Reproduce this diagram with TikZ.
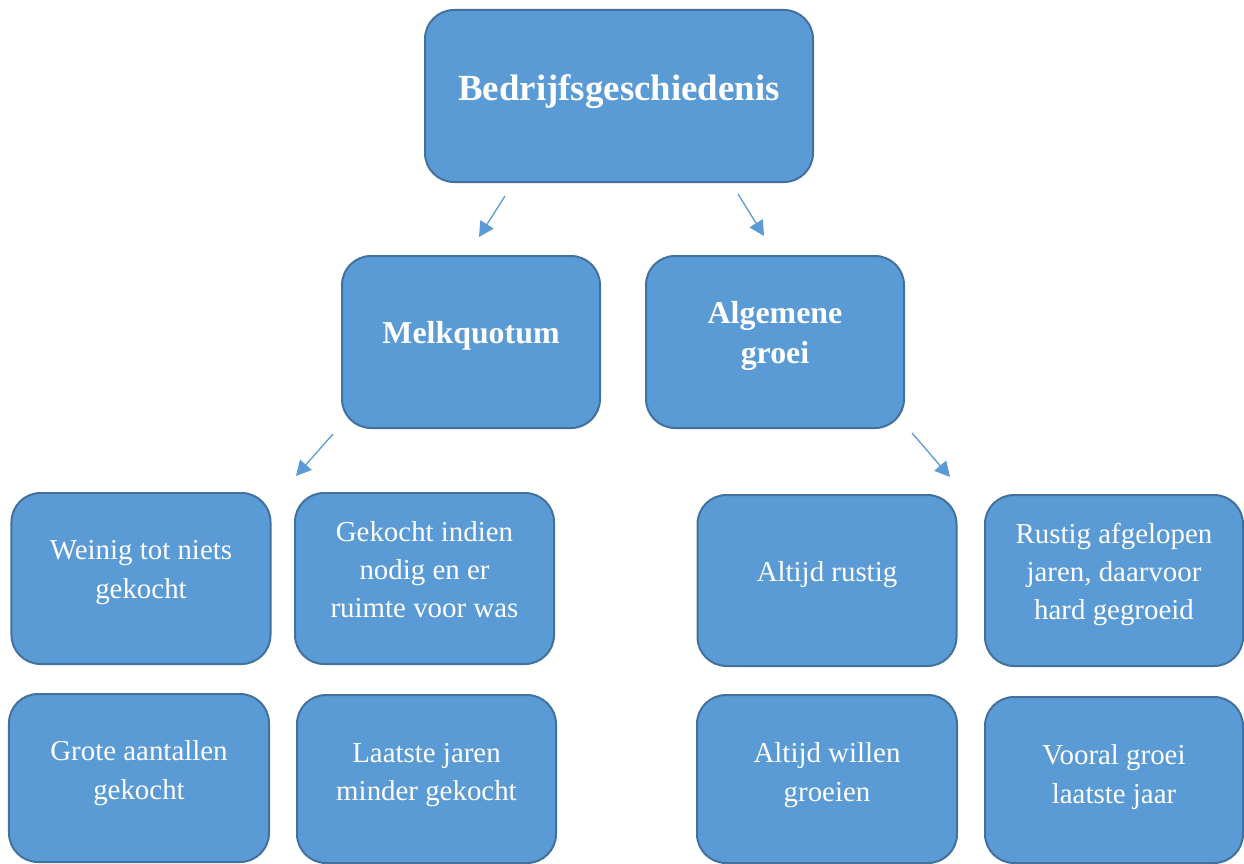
\documentclass[tikz,border=0pt]{standalone}
\usepackage{fontspec}
\setmainfont{Liberation Serif}
\usetikzlibrary{arrows.meta}
\definecolor{boxfill}{HTML}{5B9BD5}
\definecolor{boxline}{HTML}{41719C}
\definecolor{arrowcol}{HTML}{5B9BD5}
\begin{document}
\begin{tikzpicture}[x=1bp,y=-1bp,
  box/.style={draw=boxline, fill=boxfill, line width=2bp, rounded corners=29bp,
    minimum width=259bp, minimum height=171bp, inner sep=0pt, outer sep=0pt},
  bigbox/.style={box, minimum width=388bp, minimum height=172bp},
  txt/.style={text=white, align=center, font=\fontsize{29}{38.5}\selectfont, inner sep=0pt},
  btxt/.style={text=white, align=center, font=\fontsize{32}{41}\selectfont\bfseries, inner sep=0pt},
  ttxt/.style={text=white, align=center, font=\fontsize{37}{44}\selectfont\bfseries, inner sep=0pt},
  arr/.style={draw=arrowcol, line width=1.3bp, -{Triangle[length=15bp,width=15.5bp]}}]
\useasboundingbox (0,0) rectangle (1244,864);

% boxes
\node[bigbox] (top) at (619,96) {};
\node[box, minimum width=258bp, minimum height=172bp] (mq) at (471,342) {};
\node[box, minimum width=258bp, minimum height=172bp] (ag) at (775,342) {};
\node[box] (b1) at (141,578.5) {};
\node[box] (b2) at (424.5,578.5) {};
\node[box] (b3) at (827,580.5) {};
\node[box, minimum width=258bp] (b4) at (1114,580.5) {};
\node[box, minimum width=260bp, minimum height=168bp] (b5) at (139,778) {};
\node[box, minimum height=168bp] (b6) at (426.5,779) {};
\node[box, minimum width=260bp, minimum height=168bp] (b7) at (827,779) {};
\node[box, minimum width=258bp, minimum height=166bp] (b8) at (1114,780) {};

% texts
\node[ttxt] (ttop) at ([yshift=4.7bp]top.center) {Bedrijfsgeschiedenis};
\node[btxt] (tmq) at ([yshift=6bp]mq.center) {Melkquotum};
\node[btxt] (tag) at ([yshift=6bp]ag.center) {Algemene\\groei};
\node[txt] (t1) at ([yshift=6bp]b1.center) {Weinig tot niets\\gekocht};
\node[txt] (t2) at ([yshift=9bp]b2.center) {Gekocht indien\\nodig en er\\ruimte voor was};
\node[txt] (t3) at ([yshift=5.5bp]b3.center) {Altijd rustig};
\node[txt] (t4) at ([yshift=6bp]b4.center) {Rustig afgelopen\\jaren, daarvoor\\hard gegroeid};
\node[txt] (t5) at ([yshift=5bp]b5.center) {Grote aantallen\\gekocht};
\node[txt] (t6) at ([yshift=4bp]b6.center) {Laatste jaren\\minder gekocht};
\node[txt] (t7) at ([yshift=4bp]b7.center) {Altijd willen\\groeien};
\node[txt] (t8) at ([yshift=3bp]b8.center) {Vooral groei\\laatste jaar};

% arrows (free-floating)
\coordinate (a1s) at (505,196); \coordinate (a1e) at (479,237);
\coordinate (a2s) at (738,194); \coordinate (a2e) at (764,236);
\coordinate (a3s) at (333,434); \coordinate (a3e) at (296,476);
\coordinate (a4s) at (912,433); \coordinate (a4e) at (950,477);
\draw[arr] (a1s) -- (a1e);
\draw[arr] (a2s) -- (a2e);
\draw[arr] (a3s) -- (a3e);
\draw[arr] (a4s) -- (a4e);
\end{tikzpicture}
\end{document}
